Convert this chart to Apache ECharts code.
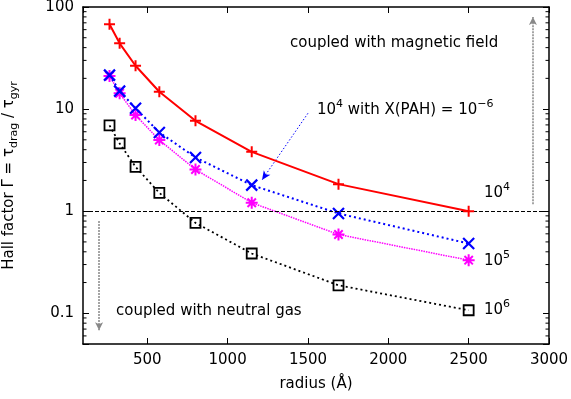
<!DOCTYPE html>
<html>
<head>
<meta charset="utf-8">
<script src="https://cdn.jsdelivr.net/npm/echarts@6/dist/echarts.min.js"></script>
<style>
html, body { margin: 0; padding: 0; background: #fff; }
#chart { width: 571px; height: 399px; }
</style>
</head>
<body>
<div id="chart"></div>
<script>
// grain radius in Angstrom
const radius = [265, 328, 427, 575, 800, 1150, 1690, 2500];
// Hall factor for each density
const hallN4 = [67.7, 44.1, 26.6, 14.8, 7.68, 3.81, 1.84, 1.0];
const hallN4Pah = [21.5, 15.0, 10.2, 5.91, 3.36, 1.80, 0.95, 0.482];
const hallN5 = [21.1, 14.3, 8.73, 4.97, 2.56, 1.21, 0.591, 0.331];
const hallN6 = [6.92, 4.61, 2.72, 1.51, 0.768, 0.385, 0.188, 0.107];
// minor ticks of the log axis
const yMinorTicks = [0.06, 0.07, 0.08, 0.09, 0.2, 0.3, 0.4, 0.5, 0.6, 0.7, 0.8, 0.9,
    2, 3, 4, 5, 6, 7, 8, 9, 20, 30, 40, 50, 60, 70, 80, 90];

const FONT = '"DejaVu Sans", sans-serif';
const FS = 15;
const xMin = 100, xMax = 3000;

const SYM_PLUS = 'path://M0,6L12,6M6,0L6,12';
const SYM_CROSS = 'path://M0,0L12,12M12,0L0,12';
const SYM_STAR = 'path://M0,6L12,6M6,0L6,12M1.8,1.8L10.2,10.2M10.2,1.8L1.8,10.2';
const SYM_BOX = 'path://M0,0L10,0L10,10L0,10Z';

const pair = (ys) => radius.map((r, i) => [r, ys[i]]);

const rich = {
    n: { fontFamily: FONT, fontSize: FS, color: '#000', lineHeight: 22 },
    sup: { fontFamily: FONT, fontSize: 11, color: '#000', lineHeight: 10, verticalAlign: 'top' },
    sub: { fontFamily: FONT, fontSize: 11, color: '#000', lineHeight: 10, verticalAlign: 'bottom' }
};

function isPow10(v) {
    const l = Math.log10(v);
    return Math.abs(l - Math.round(l)) < 1e-6;
}

function lineSeries(name, ys, color, symbol, size, bw, lineType, lw, z) {
    return {
        name: name,
        type: 'line',
        data: pair(ys),
        symbol: symbol,
        symbolSize: size,
        showAllSymbol: true,
        z: z,
        itemStyle: { color: 'rgba(0,0,0,0)', borderColor: color, borderWidth: bw },
        lineStyle: { color: color, width: lw, type: lineType },
        emphasis: { disabled: true }
    };
}

const axisX = (pos, showLabel) => ({
    type: 'value',
    position: pos,
    min: xMin,
    max: xMax,
    minInterval: 500,
    maxInterval: 500,
    axisLine: { onZero: false, lineStyle: { color: '#000', width: 1.5 } },
    axisTick: { inside: true, length: 6, lineStyle: { color: '#000', width: 1 } },
    axisLabel: {
        show: showLabel, showMinLabel: false, color: '#000', fontFamily: FONT, fontSize: FS, margin: 9,
        formatter: (v) => String(v)
    },
    splitLine: { show: false }
});

const axisY = (pos, showLabel) => ({
    type: 'log',
    logBase: 10,
    position: pos,
    min: 0.05,
    max: 100,
    axisLine: { onZero: false, lineStyle: { color: '#000', width: 1.5 } },
    axisTick: { inside: true, length: 6, lineStyle: { color: '#000', width: 1 } },
    axisLabel: {
        show: showLabel, color: '#000', fontFamily: FONT, fontSize: FS, margin: 9,
        formatter: (v) => isPow10(v) ? String(+v.toPrecision(6)) : ''
    },
    splitLine: { show: false }
});

const xBottom = axisX('bottom', true);
xBottom.name = 'radius (Å)';
xBottom.nameLocation = 'middle';
xBottom.nameGap = 33;
xBottom.nameTextStyle = { color: '#000', fontFamily: FONT, fontSize: FS };

const yLeft = axisY('left', true);
yLeft.name = '{n|Hall factor Γ = τ}{sub|drag}{n| / τ}{sub|gyr}';
yLeft.nameLocation = 'middle';
yLeft.nameGap = 63;
yLeft.nameTextStyle = { rich: rich };

const greyArrow = { color: '#888', width: 1.5, type: [2, 1] };

let option = {
    animation: false,
    backgroundColor: '#fff',
    grid: { left: 83, top: 7, right: 22, bottom: 55, containLabel: false, outerBoundsMode: 'none' },
    xAxis: [xBottom, axisX('top', false)],
    yAxis: [yLeft, axisY('right', false)],
    series: [
        Object.assign(lineSeries('1e6', hallN6, '#000', SYM_BOX, 10, 1.8, [2, 3], 1.8, 2), {
            markLine: {
                silent: true,
                animation: false,
                symbol: ['none', 'none'],
                label: { show: false },
                emphasis: { disabled: true },
                data: [
                    { yAxis: 1, lineStyle: { color: '#000', width: 1, type: [4, 2] } },
                    [
                        { coord: [200, 0.8], lineStyle: greyArrow },
                        { coord: [200, 0.068], symbol: 'arrow', symbolSize: [6, 8] }
                    ],
                    [
                        { coord: [2900, 1.17], lineStyle: greyArrow },
                        { coord: [2900, 80], symbol: 'arrow', symbolSize: [6, 8] }
                    ],
                    [
                        { coord: [1500, 9.1], lineStyle: { color: '#0000ff', width: 1, type: [1.5, 2] } },
                        { coord: [1214, 2.02], symbol: 'arrow', symbolSize: [6, 9] }
                    ]
                ]
            }
        }),
        lineSeries('1e5', hallN5, '#ff00ff', SYM_STAR, 12, 2, [1.5, 1], 1.5, 3),
        lineSeries('1e4 pah', hallN4Pah, '#0000ff', SYM_CROSS, 11, 2.2, [2, 3], 2, 4),
        lineSeries('1e4', hallN4, '#ff0000', SYM_PLUS, 11, 2, 'solid', 2, 5),
        {
            type: 'custom',
            silent: true,
            clip: false,
            z: 6,
            data: yMinorTicks.map((v) => [xMin, v]),
            renderItem: function (params, api) {
                const y = api.coord([api.value(0), api.value(1)])[1];
                const left = params.coordSys.x;
                const right = left + params.coordSys.width;
                return {
                    type: 'group',
                    children: [
                        { type: 'line', shape: { x1: left, y1: y, x2: left + 3.5, y2: y }, style: { stroke: '#000', lineWidth: 1 } },
                        { type: 'line', shape: { x1: right - 3.5, y1: y, x2: right, y2: y }, style: { stroke: '#000', lineWidth: 1 } }
                    ]
                };
            }
        }
    ],
    graphic: [
        { type: 'text', x: 290, y: 43, silent: true,
          style: { text: 'coupled with magnetic field', fill: '#000', font: FS + 'px ' + FONT, verticalAlign: 'middle' } },
        { type: 'text', x: 116, y: 311, silent: true,
          style: { text: 'coupled with neutral gas', fill: '#000', font: FS + 'px ' + FONT, verticalAlign: 'middle' } },
        { type: 'text', x: 317, y: 110, silent: true,
          style: { text: '{n|10}{sup|4}{n| with X(PAH) = 10}{sup|−6}', rich: rich, verticalAlign: 'middle' } },
        { type: 'text', x: 484, y: 193, silent: true,
          style: { text: '{n|10}{sup|4}', rich: rich, verticalAlign: 'middle' } },
        { type: 'text', x: 484, y: 261, silent: true,
          style: { text: '{n|10}{sup|5}', rich: rich, verticalAlign: 'middle' } },
        { type: 'text', x: 484, y: 310, silent: true,
          style: { text: '{n|10}{sup|6}', rich: rich, verticalAlign: 'middle' } }
    ]
};

let chart = echarts.init(document.getElementById('chart'));
chart.setOption(option);
window.addEventListener('resize', () => {
    chart.resize();
});
</script>
</body>
</html>
